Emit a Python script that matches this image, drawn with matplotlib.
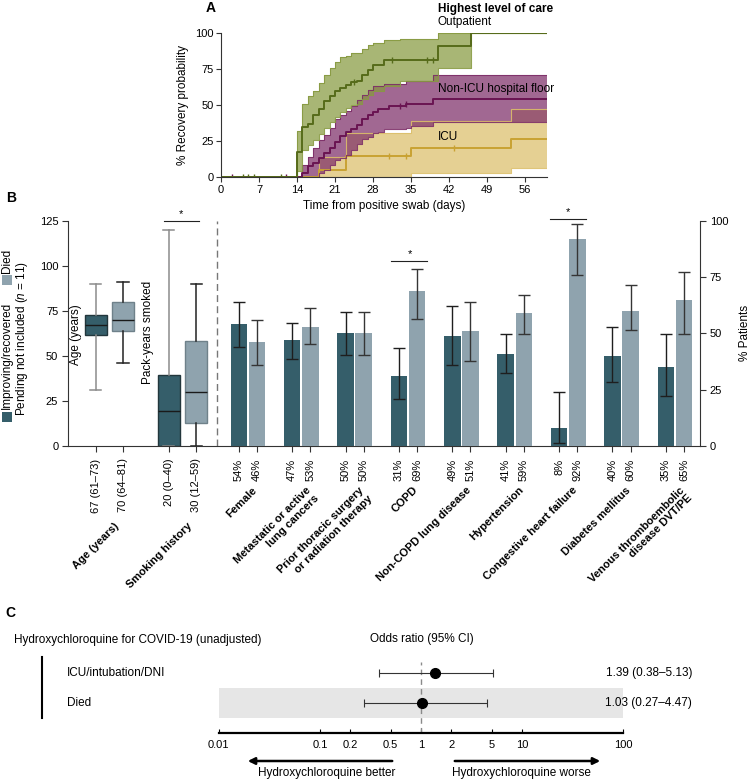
import numpy as np
import matplotlib
matplotlib.use('Agg')
import matplotlib.pyplot as plt
from matplotlib.patches import Rectangle, FancyArrowPatch
from matplotlib.lines import Line2D
from matplotlib.transforms import blended_transform_factory
from matplotlib.ticker import NullLocator

plt.rcParams['font.family'] = ['Liberation Sans', 'DejaVu Sans']
plt.rcParams['mathtext.fontset'] = 'custom'
plt.rcParams['mathtext.it'] = 'Liberation Sans:italic'
plt.rcParams['mathtext.rm'] = 'Liberation Sans'
plt.rcParams['font.size'] = 8

# ---------------- panel A: recovery curves (day, % recovered)
op_t = [0, 14, 15, 16, 17, 18, 19, 20, 21, 22, 23, 24, 25, 26, 27, 28, 30, 33, 40, 46, 60]
op_med = [0, 17.6, 35, 37, 43, 47, 53, 56, 60, 62, 64, 66, 67, 71, 74, 78, 81, 81, 91, 100, 100]
op_lo = [0, 4, 19, 22, 26, 30, 34, 38, 42, 45, 48, 50, 51, 54, 57, 60, 63, 67, 76, 100, 100]
op_hi = [0, 32, 51, 56, 60, 65, 71, 76, 80, 83, 84, 86, 86, 89, 92, 93, 95, 96, 100, 100, 100]
op_cens = [4, 5, 6, 11, 24.5, 31.5, 38, 39]

fl_t = [0, 15, 16, 17, 18, 19, 20, 21, 22, 23, 24, 25, 26, 27, 28, 29, 30, 31, 34, 35, 39, 60]
fl_med = [0, 2.5, 7.5, 10, 13, 17, 20, 24, 28.5, 31, 33, 36, 40, 43, 45, 47.5, 47.5, 49, 51, 51, 54.5, 54.5]
fl_lo = [0, 0, 0, 0, 2.5, 4.9, 8, 11.8, 13, 15, 18.7, 23, 26.6, 28, 30.6, 31, 33, 33, 34, 35.2, 37.9, 37.9]
fl_hi = [0, 8.3, 14, 20, 25.5, 29, 34, 40, 43, 45.6, 49.5, 53.5, 57, 60.6, 63, 63, 64.8, 64.8, 66.7, 66.7, 70.5, 70.5]
fl_cens = [2, 12, 33, 34]

icu_t = [0, 18, 23, 35, 53.5, 60]
icu_med = [0, 5, 14.8, 20.4, 26.5, 26.5]
icu_lo = [0, 0, 0, 2.5, 6.3, 6.3]
icu_hi = [0, 14.1, 30.6, 38.8, 47, 47]
icu_cens = [31, 34, 43]

# ---------------- panel B
box_ticklabels = ['67 (61–73)', '70 (64–81)', '20 (0–40)', '30 (12–59)']
age_imp = dict(whislo=31, q1=61.5, med=67, q3=72.5, whishi=90)
age_died = dict(whislo=46, q1=64, med=70, q3=80, whishi=91)
smoke_imp = dict(whislo=0, q1=0, med=19.5, q3=39.5, whishi=120)
smoke_died = dict(whislo=0, q1=12.5, med=30, q3=58, whishi=90)

categories = ['Female', 'Metastatic or active\nlung cancers',
              'Prior thoracic surgery\nor radiation therapy', 'COPD',
              'Non-COPD lung disease', 'Hypertension', 'Congestive heart failure',
              'Diabetes mellitus', 'Venous thromboembolic\ndisease DVT/PE']
imp_pct = [54, 47, 50, 31, 49, 41, 8, 40, 35]
died_pct = [46, 53, 50, 69, 51, 59, 92, 60, 65]
imp_lo = [44, 38.6, 40.4, 21, 36.1, 32.4, 1.2, 28.3, 22.3]
imp_hi = [63.9, 54.5, 59.3, 43.5, 62, 49.8, 23.9, 52.6, 49.6]
died_lo = [36, 45.2, 40.4, 56.5, 37.9, 49.9, 75.8, 51.4, 49.9]
died_hi = [55.8, 61.1, 59.3, 78.7, 63.7, 67.1, 98.5, 71.4, 77.2]

# ---------------- panel C
or_labels = ['ICU/intubation/DNI', 'Died']
or_est = [1.39, 1.03]
or_lo = [0.38, 0.27]
or_hi = [5.13, 4.47]
or_ticks = [0.01, 0.1, 0.2, 0.5, 1, 2, 5, 10, 100]

W, H = 751, 779
fig = plt.figure(figsize=(W / 100, H / 100), dpi=100)


def fx(x):
    return x / W


def fy(y):
    return 1 - y / H


def add_ax(l, t, r, b):
    return fig.add_axes([l / W, 1 - b / H, (r - l) / W, (b - t) / H])


DARK = '#355e6a'
LIGHT = '#8fa3ae'
AXC = '#333333'

# ======================= A
axA = add_ax(221, 33, 546.7, 177)
groups = [
    (icu_t, icu_med, icu_lo, icu_hi, icu_cens, '#dcbf6a', '#c9a233'),
    (fl_t, fl_med, fl_lo, fl_hi, fl_cens, '#7d2e68', '#6a1452'),
    (op_t, op_med, op_lo, op_hi, op_cens, '#879a40', '#566b1a'),
]
for t, m, lo, hi, cens, fc, lc in groups:
    axA.fill_between(t, lo, hi, step='post', color=fc, alpha=0.72, lw=0)
for t, m, lo, hi, cens, fc, lc in groups:
    axA.step(t, hi, where='post', color=fc, lw=0.8, alpha=0.9)
    axA.step(t, lo, where='post', color=fc, lw=0.8, alpha=0.9)
    axA.step(t, m, where='post', color=lc, lw=1.4)
    idx = np.searchsorted(t, cens, side='right') - 1
    axA.plot(cens, np.array(m)[idx], ls='none', marker='|', ms=5, mew=1, color=lc)

axA.set_xlim(0, 60)
axA.set_ylim(0, 100)
axA.set_xticks(range(0, 57, 7))
axA.set_yticks([0, 25, 50, 75, 100])
for s in ['top', 'right']:
    axA.spines[s].set_visible(False)
for s in ['left', 'bottom']:
    axA.spines[s].set_color(AXC)
axA.tick_params(labelsize=8, length=3.5, color=AXC, pad=2)
axA.set_xlabel('Time from positive swab (days)', fontsize=8.5, labelpad=4)
axA.set_ylabel('% Recovery probability', fontsize=8.5, labelpad=4)

fig.text(fx(206), fy(8), 'A', fontsize=10, fontweight='bold', va='center')
fig.text(fx(438), fy(9), 'Highest level of care', fontsize=8.5, fontweight='bold', va='center')
fig.text(fx(438), fy(22), 'Outpatient', fontsize=8.5, va='center')
fig.text(fx(438), fy(89), 'Non-ICU hospital floor', fontsize=8.5, va='center')
fig.text(fx(438), fy(137), 'ICU', fontsize=8.5, va='center')

# ======================= B
axB = add_ax(68, 220.7, 700, 446)
axB2 = axB.twinx()
axB.set_xlim(0, 11.84)
axB.set_ylim(0, 125)
axB2.set_ylim(0, 100)

box_pos = [0.52, 1.03, 1.89, 2.40]
stats = [age_imp, age_died, smoke_imp, smoke_died]
bp = axB.bxp(stats, positions=box_pos, widths=0.42, patch_artist=True, showfliers=False)
for i, box in enumerate(bp['boxes']):
    imp = i % 2 == 0
    box.set_facecolor(DARK if imp else LIGHT)
    box.set_edgecolor('#22363c' if imp else '#6f818a')
    box.set_linewidth(1)
    wc = '#8c8c8c' if imp else '#222222'
    for ln in bp['whiskers'][2 * i:2 * i + 2] + bp['caps'][2 * i:2 * i + 2]:
        ln.set_color(wc)
        ln.set_linewidth(1.1)
    bp['medians'][i].set_color('#1a1a1a')
    bp['medians'][i].set_linewidth(1)

group_x = 3.37 + np.arange(len(categories))
imp_x = group_x - 0.17
died_x = group_x + 0.17
imp_err = [np.array(imp_pct) - np.array(imp_lo), np.array(imp_hi) - np.array(imp_pct)]
died_err = [np.array(died_pct) - np.array(died_lo), np.array(died_hi) - np.array(died_pct)]
axB2.bar(imp_x, imp_pct, width=0.31, color=DARK, yerr=imp_err, capsize=4,
         error_kw=dict(ecolor='#1e1e1e', elinewidth=1, capthick=1))
axB2.bar(died_x, died_pct, width=0.31, color=LIGHT, yerr=died_err, capsize=4,
         error_kw=dict(ecolor='#353535', elinewidth=1, capthick=1))

axB.axvline(2.79, color='#777777', ls=(0, (5, 3)), lw=1)

# significance markers
axB.plot([1.80, 2.45], [125, 125], color='#222222', lw=0.8, clip_on=False)
axB.text(2.12, 126, '*', ha='center', va='bottom', fontsize=8)
axB2.plot([6.06, 6.73], [82.2, 82.2], color='#222222', lw=0.8, clip_on=False)
axB2.text(6.40, 83, '*', ha='center', va='bottom', fontsize=8)
axB2.plot([9.03, 9.70], [100.9, 100.9], color='#222222', lw=0.8, clip_on=False)
axB2.text(9.36, 101.7, '*', ha='center', va='bottom', fontsize=8)

axB.text(0.15, 61.7, 'Age (years)', rotation=90, ha='center', va='center', fontsize=8.5)
axB.text(1.50, 62.8, 'Pack-years smoked', rotation=90, ha='center', va='center', fontsize=8.5)

xt = list(box_pos) + [v for pair in zip(imp_x, died_x) for v in pair]
xl = box_ticklabels + [f'{v}%' for pair in zip(imp_pct, died_pct) for v in pair]
axB.set_xticks(xt)
axB.set_xticklabels(xl, rotation=90, fontsize=8)
axB.set_yticks([0, 25, 50, 75, 100, 125])
axB2.set_yticks([0, 25, 50, 75, 100])
axB.tick_params(axis='x', length=4, pad=5, color=AXC)
axB.tick_params(axis='y', labelsize=8, length=4, color=AXC, pad=3)
axB2.tick_params(axis='y', labelsize=8, length=4, color=AXC, pad=3)
axB2.set_ylabel('% Patients', fontsize=8.5, labelpad=8)
for s in ['top', 'right']:
    axB.spines[s].set_visible(False)
for s in ['top', 'left', 'bottom']:
    axB2.spines[s].set_visible(False)
axB.spines['left'].set_color(AXC)
axB.spines['bottom'].set_color(AXC)
axB2.spines['right'].set_color(AXC)

trB = blended_transform_factory(axB.transData, fig.transFigure)
cat_x = [(box_pos[0] + box_pos[1]) / 2, (box_pos[2] + box_pos[3]) / 2] + list(group_x)
cat_txt = ['Age (years)', 'Smoking history'] + categories
cat_y = [521, 521] + [485] * len(categories)
for x, t, y in zip(cat_x, cat_txt, cat_y):
    axB.text(x + 0.08, fy(y), t, transform=trB, rotation=45, rotation_mode='anchor',
             ha='right', va='top', ma='right', fontsize=8, fontweight='bold')

fig.text(fx(6), fy(198), 'B', fontsize=10, fontweight='bold', va='center')
# legend (vertical)
fig.add_artist(Rectangle((fx(2), fy(422)), 10 / W, 10 / H, transform=fig.transFigure,
                         facecolor=DARK, edgecolor='none'))
fig.add_artist(Rectangle((fx(2), fy(285)), 10 / W, 10 / H, transform=fig.transFigure,
                         facecolor=LIGHT, edgecolor='none'))
fig.text(fx(7), fy(409), 'Improving/recovered', rotation=90, ha='center', va='bottom', fontsize=8.5)
fig.text(fx(22), fy(416), 'Pending not included ($n$ = 11)', rotation=90, ha='center',
         va='bottom', fontsize=8.5)
fig.text(fx(7), fy(273), 'Died', rotation=90, ha='center', va='bottom', fontsize=8.5)

# ======================= C
fig.text(fx(5), fy(613), 'C', fontsize=10, fontweight='bold', va='center')
fig.text(fx(14), fy(640), 'Hydroxychloroquine for COVID-19 (unadjusted)', fontsize=8.5, va='center')
fig.text(fx(422), fy(639), 'Odds ratio (95% CI)', fontsize=8.5, va='center', ha='center')

axC = add_ax(218.75, 657, 623.3, 733)
axC.set_xscale('log')
axC.set_xlim(0.01, 100)
axC.set_ylim(2.0, -0.533)
axC.axhspan(0.5, 1.5, color='#e6e6e6', lw=0, zorder=0)
axC.axvline(1, ymin=0, ymax=(2.0 + 0.367) / 2.533, color='#8a8a8a', ls=(0, (4, 3)), lw=1)
rows = np.arange(len(or_labels))
axC.errorbar(or_est, rows,
             xerr=[np.array(or_est) - np.array(or_lo), np.array(or_hi) - np.array(or_est)],
             fmt='o', color='black', ms=7, ecolor='#333333', elinewidth=0.8,
             capsize=3, capthick=0.8, zorder=3)
axC.set_xticks(or_ticks)
axC.set_xticklabels([f'{v:g}' for v in or_ticks])
axC.xaxis.set_minor_locator(NullLocator())
axC.set_yticks([])
for s in ['top', 'right', 'left']:
    axC.spines[s].set_visible(False)
axC.spines['bottom'].set_linewidth(1.6)
axC.tick_params(axis='x', direction='in', length=3, labelsize=8, pad=5)

trC = blended_transform_factory(fig.transFigure, axC.transData)
for r, lab, e, lo, hi in zip(rows, or_labels, or_est, or_lo, or_hi):
    axC.text(fx(67), r, lab, transform=trC, va='center', ha='left', fontsize=8.5)
    axC.text(fx(692), r, f'{e:.2f} ({lo:.2f}–{hi:.2f})', transform=trC,
             va='center', ha='right', fontsize=8.5)

fig.add_artist(Line2D([fx(41.7), fx(41.7)], [fy(657), fy(718)], color='black', lw=1.5))
fig.add_artist(FancyArrowPatch((fx(395), fy(761)), (fx(245), fy(761)), transform=fig.transFigure,
                               arrowstyle='-|>', mutation_scale=10, lw=1.8, color='black'))
fig.add_artist(FancyArrowPatch((fx(452), fy(761)), (fx(603), fy(761)), transform=fig.transFigure,
                               arrowstyle='-|>', mutation_scale=10, lw=1.8, color='black'))
fig.text(fx(395), fy(773), 'Hydroxychloroquine better', ha='right', va='center', fontsize=8.5)
fig.text(fx(452), fy(773), 'Hydroxychloroquine worse', ha='left', va='center', fontsize=8.5)

fig.savefig('out.png', dpi=100, facecolor='white')
